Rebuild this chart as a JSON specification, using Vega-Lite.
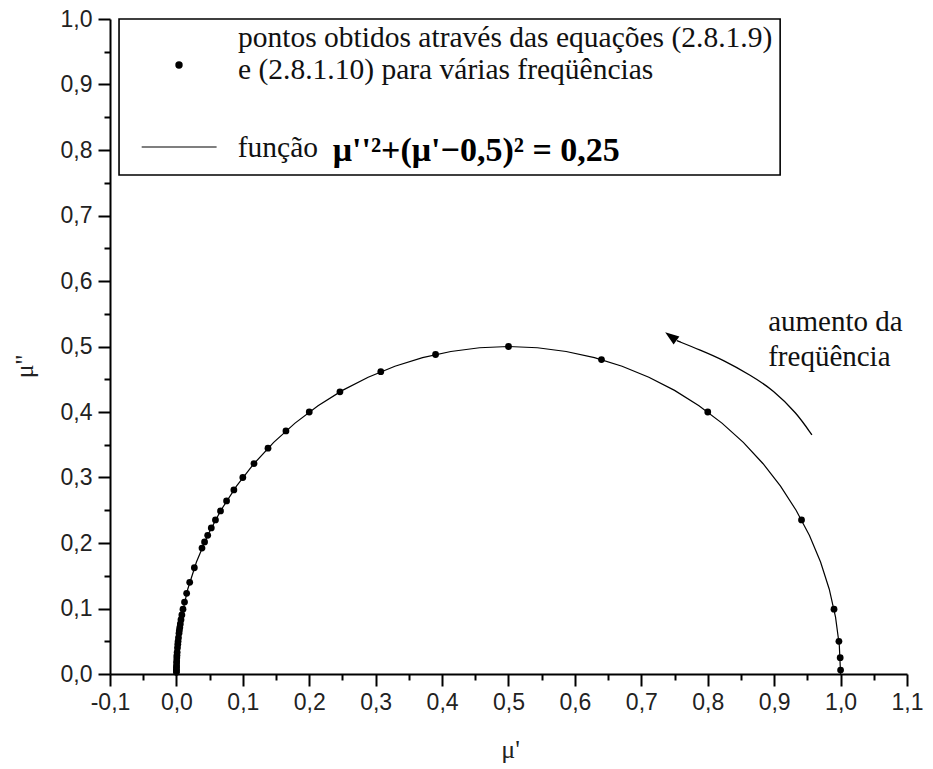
{
  "$schema": "https://vega.github.io/schema/vega-lite/v6.json",
  "width": 797,
  "height": 655,
  "autosize": {"type": "none"},
  "padding": {"left": 110, "top": 19, "right": 26, "bottom": 95},
  "background": "white",
  "data": {"values": [{}]},
  "config": {
    "view": {"stroke": null},
    "axis": {
      "grid": false,
      "domainColor": "#000",
      "domainWidth": 2,
      "tickColor": "#000",
      "tickWidth": 2,
      "labelFont": "Liberation Sans",
      "labelFontSize": 23,
      "labelColor": "#222",
      "labelFlush": false,
      "labelOverlap": false,
      "titleFont": "Liberation Serif",
      "titleFontSize": 26,
      "titleFontWeight": "normal",
      "titleColor": "#222"
    }
  },
  "datasets": {
    "pontos": [
      {"mu1": 1.0, "mu2": 0.006},
      {"mu1": 0.9994, "mu2": 0.025},
      {"mu1": 0.9975, "mu2": 0.0499},
      {"mu1": 0.9901, "mu2": 0.099},
      {"mu1": 0.9412, "mu2": 0.2353},
      {"mu1": 0.8, "mu2": 0.4},
      {"mu1": 0.64, "mu2": 0.48},
      {"mu1": 0.5, "mu2": 0.5},
      {"mu1": 0.3902, "mu2": 0.4878},
      {"mu1": 0.3077, "mu2": 0.4615},
      {"mu1": 0.2462, "mu2": 0.4308},
      {"mu1": 0.2, "mu2": 0.4},
      {"mu1": 0.1649, "mu2": 0.3711},
      {"mu1": 0.1379, "mu2": 0.3448},
      {"mu1": 0.1168, "mu2": 0.3212},
      {"mu1": 0.1, "mu2": 0.3},
      {"mu1": 0.0865, "mu2": 0.2811},
      {"mu1": 0.0755, "mu2": 0.2642},
      {"mu1": 0.0664, "mu2": 0.249},
      {"mu1": 0.0588, "mu2": 0.2353},
      {"mu1": 0.0525, "mu2": 0.223},
      {"mu1": 0.0471, "mu2": 0.2118},
      {"mu1": 0.0424, "mu2": 0.2016},
      {"mu1": 0.0385, "mu2": 0.1923},
      {"mu1": 0.027, "mu2": 0.1622},
      {"mu1": 0.02, "mu2": 0.14},
      {"mu1": 0.0154, "mu2": 0.1231},
      {"mu1": 0.0122, "mu2": 0.1098},
      {"mu1": 0.0099, "mu2": 0.099},
      {"mu1": 0.0082, "mu2": 0.0902},
      {"mu1": 0.0069, "mu2": 0.0828},
      {"mu1": 0.0059, "mu2": 0.0765},
      {"mu1": 0.0051, "mu2": 0.0711},
      {"mu1": 0.0044, "mu2": 0.0664},
      {"mu1": 0.0039, "mu2": 0.0623},
      {"mu1": 0.0031, "mu2": 0.0554},
      {"mu1": 0.0025, "mu2": 0.0499},
      {"mu1": 0.0021, "mu2": 0.0454},
      {"mu1": 0.0016, "mu2": 0.0399},
      {"mu1": 0.0011, "mu2": 0.0333},
      {"mu1": 0.0008, "mu2": 0.0285},
      {"mu1": 0.0006, "mu2": 0.025},
      {"mu1": 0.0004, "mu2": 0.02},
      {"mu1": 0.0003, "mu2": 0.0167},
      {"mu1": 0.0002, "mu2": 0.0125},
      {"mu1": 0.0001, "mu2": 0.01},
      {"mu1": 0.0, "mu2": 0.0067},
      {"mu1": 0.0, "mu2": 0.005},
      {"mu1": 0.0, "mu2": 0.0025}
    ],
    "funcao": [
      {"t": 0, "mu1": 1.0, "mu2": 0.0},
      {"t": 5, "mu1": 0.9981, "mu2": 0.04358},
      {"t": 10, "mu1": 0.9924, "mu2": 0.08682},
      {"t": 15, "mu1": 0.98296, "mu2": 0.12941},
      {"t": 20, "mu1": 0.96985, "mu2": 0.17101},
      {"t": 25, "mu1": 0.95315, "mu2": 0.21131},
      {"t": 30, "mu1": 0.93301, "mu2": 0.25},
      {"t": 35, "mu1": 0.90958, "mu2": 0.28679},
      {"t": 40, "mu1": 0.88302, "mu2": 0.32139},
      {"t": 45, "mu1": 0.85355, "mu2": 0.35355},
      {"t": 50, "mu1": 0.82139, "mu2": 0.38302},
      {"t": 55, "mu1": 0.78679, "mu2": 0.40958},
      {"t": 60, "mu1": 0.75, "mu2": 0.43301},
      {"t": 65, "mu1": 0.71131, "mu2": 0.45315},
      {"t": 70, "mu1": 0.67101, "mu2": 0.46985},
      {"t": 75, "mu1": 0.62941, "mu2": 0.48296},
      {"t": 80, "mu1": 0.58682, "mu2": 0.4924},
      {"t": 85, "mu1": 0.54358, "mu2": 0.4981},
      {"t": 90, "mu1": 0.5, "mu2": 0.5},
      {"t": 95, "mu1": 0.45642, "mu2": 0.4981},
      {"t": 100, "mu1": 0.41318, "mu2": 0.4924},
      {"t": 105, "mu1": 0.37059, "mu2": 0.48296},
      {"t": 110, "mu1": 0.32899, "mu2": 0.46985},
      {"t": 115, "mu1": 0.28869, "mu2": 0.45315},
      {"t": 120, "mu1": 0.25, "mu2": 0.43301},
      {"t": 125, "mu1": 0.21321, "mu2": 0.40958},
      {"t": 130, "mu1": 0.17861, "mu2": 0.38302},
      {"t": 135, "mu1": 0.14645, "mu2": 0.35355},
      {"t": 140, "mu1": 0.11698, "mu2": 0.32139},
      {"t": 145, "mu1": 0.09042, "mu2": 0.28679},
      {"t": 150, "mu1": 0.06699, "mu2": 0.25},
      {"t": 155, "mu1": 0.04685, "mu2": 0.21131},
      {"t": 160, "mu1": 0.03015, "mu2": 0.17101},
      {"t": 165, "mu1": 0.01704, "mu2": 0.12941},
      {"t": 170, "mu1": 0.0076, "mu2": 0.08682},
      {"t": 175, "mu1": 0.0019, "mu2": 0.04358},
      {"t": 180, "mu1": 0.0, "mu2": 0.0}
    ],
    "seta": [
      {"ordem": 1, "mu1": 0.9568, "mu2": 0.3649},
      {"ordem": 2, "mu1": 0.9342, "mu2": 0.398},
      {"ordem": 3, "mu1": 0.899, "mu2": 0.4336},
      {"ordem": 4, "mu1": 0.8639, "mu2": 0.4565},
      {"ordem": 5, "mu1": 0.8236, "mu2": 0.4794},
      {"ordem": 6, "mu1": 0.7886, "mu2": 0.4947},
      {"ordem": 7, "mu1": 0.7535, "mu2": 0.5089}
    ]
  },
  "layer": [
    {
      "data": {"name": "funcao"},
      "mark": {"type": "line", "color": "#000", "strokeWidth": 1.2, "clip": false},
      "encoding": {
        "x": {
          "field": "mu1", "type": "quantitative",
          "scale": {"domain": [-0.1, 1.1], "nice": false, "zero": false},
          "axis": {
            "orient": "bottom",
            "title": "μ'",
            "values": [-0.1, 0, 0.1, 0.2, 0.3, 0.4, 0.5, 0.6, 0.7, 0.8, 0.9, 1.0, 1.1],
            "labelExpr": "replace(replace(format(datum.value, '.1f'), '.', ','), '−', '-')",
            "tickSize": 12,
            "labelPadding": 5,
            "titleX": 400,
            "titleY": 83,
            "titleBaseline": "alphabetic"
          }
        },
        "y": {
          "field": "mu2", "type": "quantitative",
          "scale": {"domain": [0, 1], "nice": false, "zero": false},
          "axis": {
            "orient": "left",
            "title": "μ''",
            "values": [0, 0.1, 0.2, 0.3, 0.4, 0.5, 0.6, 0.7, 0.8, 0.9, 1.0],
            "labelExpr": "replace(format(datum.value, '.1f'), '.', ',')",
            "tickSize": 12,
            "labelPadding": 6,
            "titleAngle": -90,
            "titleX": -86,
            "titleY": 347,
            "titleAlign": "center",
            "titleBaseline": "middle"
          }
        },
        "order": {"field": "t", "type": "quantitative"}
      }
    },
    {
      "data": {"name": "pontos"},
      "mark": {"type": "point", "filled": true, "color": "#000", "opacity": 1, "size": 46, "shape": "circle", "clip": false},
      "encoding": {
        "x": {
          "field": "mu1", "type": "quantitative",
          "scale": {"domain": [-0.1, 1.1], "nice": false, "zero": false},
          "axis": {
            "orient": "bottom",
            "title": null,
            "labels": false,
            "domain": false,
            "values": [-0.05, 0.05, 0.15, 0.25, 0.35, 0.45, 0.55, 0.65, 0.75, 0.85, 0.95, 1.05],
            "tickSize": 6
          }
        },
        "y": {
          "field": "mu2", "type": "quantitative",
          "scale": {"domain": [0, 1], "nice": false, "zero": false},
          "axis": {
            "orient": "left",
            "title": null,
            "labels": false,
            "domain": false,
            "values": [0.05, 0.15, 0.25, 0.35, 0.45, 0.55, 0.65, 0.75, 0.85, 0.95],
            "tickSize": 6
          }
        }
      }
    },
    {
      "mark": {"type": "rect", "fill": "white", "stroke": "#000", "strokeWidth": 1.6, "clip": false},
      "encoding": {
        "x": {"datum": -0.0864, "type": "quantitative", "axis": null},
        "x2": {"datum": 0.909},
        "y": {"datum": 1.0, "type": "quantitative", "axis": null},
        "y2": {"datum": 0.7618}
      }
    },
    {
      "mark": {"type": "point", "filled": true, "color": "#000", "opacity": 1, "size": 55, "shape": "circle"},
      "encoding": {
        "x": {"datum": 0.0039, "type": "quantitative", "axis": null},
        "y": {"datum": 0.9298, "type": "quantitative", "axis": null}
      }
    },
    {
      "mark": {"type": "rule", "color": "#000", "strokeWidth": 1.2},
      "encoding": {
        "x": {"datum": -0.0523, "type": "quantitative", "axis": null},
        "x2": {"datum": 0.0605},
        "y": {"datum": 0.8046, "type": "quantitative", "axis": null}
      }
    },
    {
      "mark": {
        "type": "text", "align": "left", "baseline": "alphabetic",
        "font": "Liberation Serif", "fontSize": 29.5, "color": "#111",
        "lineHeight": 32,
        "text": ["pontos obtidos através das equações  (2.8.1.9)", "e (2.8.1.10) para várias freqüências"]
      },
      "encoding": {
        "x": {"datum": 0.0928, "type": "quantitative", "axis": null},
        "y": {"datum": 0.9573, "type": "quantitative", "axis": null}
      }
    },
    {
      "mark": {
        "type": "text", "align": "left", "baseline": "alphabetic",
        "font": "Liberation Serif", "fontSize": 29.5, "color": "#111",
        "text": "função"
      },
      "encoding": {
        "x": {"datum": 0.0923, "type": "quantitative", "axis": null},
        "y": {"datum": 0.789, "type": "quantitative", "axis": null}
      }
    },
    {
      "mark": {
        "type": "text", "align": "left", "baseline": "alphabetic",
        "font": "Liberation Serif", "fontSize": 34, "fontWeight": "bold", "color": "#000",
        "text": "μ''²+(μ'−0,5)² = 0,25"
      },
      "encoding": {
        "x": {"datum": 0.2354, "type": "quantitative", "axis": null},
        "y": {"datum": 0.783, "type": "quantitative", "axis": null}
      }
    },
    {
      "data": {"name": "seta"},
      "mark": {"type": "line", "color": "#000", "strokeWidth": 1.3, "interpolate": "basis"},
      "encoding": {
        "x": {"field": "mu1", "type": "quantitative", "axis": null},
        "y": {"field": "mu2", "type": "quantitative", "axis": null},
        "order": {"field": "ordem", "type": "quantitative"}
      }
    },
    {
      "mark": {"type": "point", "filled": true, "color": "#000", "opacity": 1, "size": 196, "shape": "M0,-1L0.7,1L-0.7,1Z", "angle": 306},
      "encoding": {
        "x": {"datum": 0.7444, "type": "quantitative", "axis": null},
        "y": {"datum": 0.5154, "type": "quantitative", "axis": null}
      }
    },
    {
      "mark": {
        "type": "text", "align": "left", "baseline": "alphabetic",
        "font": "Liberation Serif", "fontSize": 29, "color": "#111",
        "lineHeight": 35,
        "text": ["aumento da", "freqüência"]
      },
      "encoding": {
        "x": {"datum": 0.891, "type": "quantitative", "axis": null},
        "y": {"datum": 0.523, "type": "quantitative", "axis": null}
      }
    }
  ],
  "resolve": {"axis": {"x": "independent", "y": "independent"}}
}
